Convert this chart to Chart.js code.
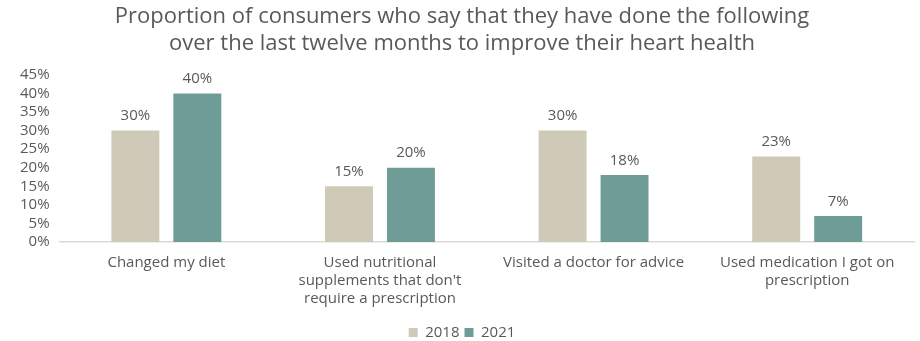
<!DOCTYPE html>
<html>
<head>
<meta charset="utf-8">
<script src="https://cdn.jsdelivr.net/npm/chart.js@4"></script>
<style>
  html, body { margin: 0; padding: 0; background: #fff; }
  #wrap { width: 920px; height: 341px; }
</style>
</head>
<body>
<div id="wrap"><canvas id="heart-chart"></canvas></div>
<script>
var categories = [
    "Changed my diet",
    ["Used nutritional", "supplements that don't", "require a prescription"],
    "Visited a doctor for advice",
    ["Used medication I got on", "prescription"]
];
var seriesNames = ["2018", "2021"];
var values2018 = [30, 15, 30, 23];
var values2021 = [40, 20, 18, 7];
var colors = ["#CECAB7", "#6E9D98"];

var textColor = "#595959";
var fontFamily = "'Open Sans', sans-serif";

// draws the value above every bar
var valueLabels = {
    id: 'valueLabels',
    afterDatasetsDraw: function (chart) {
        var ctx = chart.ctx;
        ctx.save();
        ctx.font = "15px " + fontFamily;
        ctx.fillStyle = textColor;
        ctx.textAlign = "center";
        ctx.textBaseline = "bottom";
        chart.data.datasets.forEach(function (ds, i) {
            chart.getDatasetMeta(i).data.forEach(function (bar, j) {
                ctx.fillText(ds.data[j] + "%", bar.x, bar.y - 7);
            });
        });
        ctx.restore();
    }
};

var config = {
    type: 'bar',
    data: {
        labels: categories,
        datasets: [
            { label: seriesNames[0], data: values2018, backgroundColor: colors[0] },
            { label: seriesNames[1], data: values2021, backgroundColor: colors[1] }
        ]
    },
    options: {
        responsive: true,
        maintainAspectRatio: false,
        animation: false,
        categoryPercentage: 0.58,
        barPercentage: 0.774,
        layout: { padding: { left: 10, right: 6, top: 0, bottom: -9 } },
        plugins: {
            title: {
                display: true,
                text: ["Proportion of consumers who say that they have done the following",
                       "over the last twelve months to improve their heart health"],
                color: textColor,
                font: { family: fontFamily, size: 22, weight: 'normal', lineHeight: 1.2 },
                padding: { top: 4, bottom: 18 }
            },
            legend: {
                position: 'bottom',
                labels: {
                    color: textColor,
                    font: { family: fontFamily, size: 15 },
                    boxWidth: 9,
                    boxHeight: 9,
                    padding: 5
                }
            },
            tooltip: { enabled: false }
        },
        scales: {
            x: {
                grid: { display: false, drawTicks: false },
                border: { color: "#D9D9D9", width: 1.5 },
                ticks: {
                    color: textColor,
                    font: { family: fontFamily, size: 15, lineHeight: 1.2 },
                    maxRotation: 0,
                    autoSkip: false,
                    padding: 12
                }
            },
            y: {
                min: 0,
                max: 45,
                grid: { display: false, drawTicks: false },
                border: { display: false },
                ticks: {
                    stepSize: 5,
                    autoSkip: false,
                    color: textColor,
                    font: { family: fontFamily, size: 15 },
                    padding: 10,
                    callback: function (v) { return v + "%"; }
                }
            }
        }
    },
    plugins: [valueLabels]
};

var myChart = new Chart(document.getElementById("heart-chart").getContext("2d"), config);
</script>
</body>
</html>
